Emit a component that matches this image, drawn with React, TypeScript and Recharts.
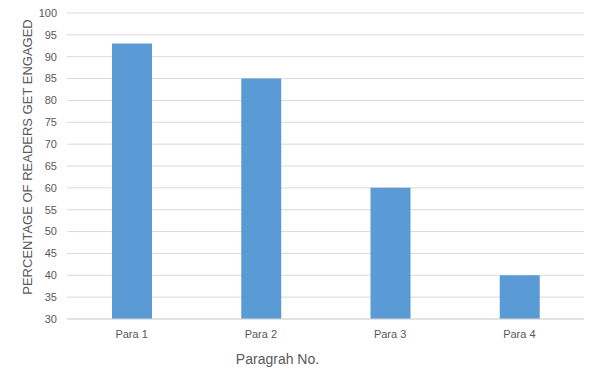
import { BarChart, Bar, XAxis, YAxis, CartesianGrid } from "recharts";

const paragraphs = ["Para 1", "Para 2", "Para 3", "Para 4"];
const engaged = [93, 85, 60, 40];
const yTicks = [30, 35, 40, 45, 50, 55, 60, 65, 70, 75, 80, 85, 90, 95, 100];

const data = paragraphs.map((name, i) => ({ name, value: engaged[i] }));

const font = "'Liberation Sans', Arial, sans-serif";

export default function App() {
    return (
        <div style={{ position: "absolute", left: 0, top: 0, background: "#fff" }}>
            <BarChart
                width={591}
                height={372}
                data={data}
                margin={{ top: 13, right: 7, bottom: 0, left: 0 }}
                barSize={40}
            >
                <CartesianGrid vertical={false} stroke="#d9d9d9" />
                <XAxis
                    dataKey="name"
                    height={53}
                    axisLine={{ stroke: "#d9d9d9" }}
                    tickLine={false}
                    tickMargin={5}
                    tick={{ fill: "#595959", fontSize: 11, fontFamily: font }}
                    label={{
                        value: "Paragrah No.",
                        position: "insideBottom",
                        offset: 8,
                        dx: -48,
                        style: { fill: "#595959", fontSize: 14, fontFamily: font },
                    }}
                />
                <YAxis
                    width={67}
                    domain={[30, 100]}
                    ticks={yTicks}
                    interval={0}
                    axisLine={false}
                    tickLine={false}
                    tickMargin={4}
                    tick={{ fill: "#595959", fontSize: 11, fontFamily: font }}
                    label={{
                        value: "PERCENTAGE OF READERS GET ENGAGED",
                        angle: -90,
                        position: "insideLeft",
                        offset: 27,
                        dy: -9,
                        style: { fill: "#595959", fontSize: 13, fontFamily: font, textAnchor: "middle" },
                    }}
                />
                <Bar dataKey="value" fill="#5B9BD5" isAnimationActive={false} />
            </BarChart>
        </div>
    );
}
